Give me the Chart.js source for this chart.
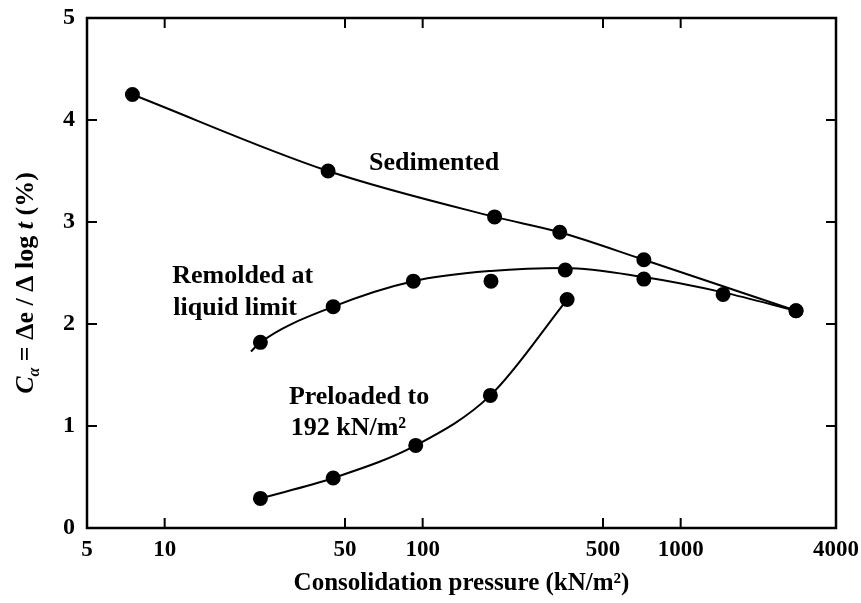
<!DOCTYPE html>
<html>
<head>
<meta charset="utf-8">
<script src="https://cdn.jsdelivr.net/npm/chart.js@4.4.0/dist/chart.umd.min.js"></script>
<style>
  html, body { margin: 0; padding: 0; background: #fff; }
</style>
</head>
<body>
<canvas id="chart" width="861" height="603"></canvas>
<script>
// axis ticks
const xTicks = [5, 10, 50, 100, 500, 1000, 4000];

// Sedimented
const sedX = [7.5, 43, 190, 340, 720, 2800];
const sedY = [4.25, 3.5, 3.05, 2.9, 2.63, 2.13];

// Remolded at liquid limit (measured points)
const remX = [23.5, 45, 92, 184, 357, 720, 1460, 2800];
const remY = [1.82, 2.17, 2.42, 2.42, 2.53, 2.44, 2.29, 2.13];
// faired curve drawn through them
const remCurveX = [21.6, 23.5, 45, 92, 184, 357, 720, 1460, 2800];
const remCurveY = [1.73, 1.82, 2.17, 2.42, 2.52, 2.55, 2.46, 2.31, 2.13];

// Preloaded to 192 kN/m2
const preX = [23.5, 45, 94, 183, 363];
const preY = [0.29, 0.49, 0.81, 1.30, 2.24];

const FONT = '"Liberation Serif", "Times New Roman", serif';
const pts = (xs, ys) => xs.map((x, i) => ({ x: x, y: ys[i] }));

// ====== frame with inward tick marks ======
const framePlugin = {
    id: 'frame',
    afterDraw(chart) {
        const { ctx, chartArea: a, scales } = chart;
        ctx.save();
        ctx.strokeStyle = '#000';
        ctx.lineWidth = 2.5;
        ctx.strokeRect(a.left, a.top, a.right - a.left, a.bottom - a.top);
        ctx.lineWidth = 2;
        ctx.beginPath();
        xTicks.slice(1, -1).forEach(v => {
            const px = scales.x.getPixelForValue(v);
            ctx.moveTo(px, a.bottom); ctx.lineTo(px, a.bottom - 10);
            ctx.moveTo(px, a.top); ctx.lineTo(px, a.top + 10);
        });
        [1, 2, 3, 4].forEach(v => {
            const py = scales.y.getPixelForValue(v);
            ctx.moveTo(a.left, py); ctx.lineTo(a.left + 10, py);
            ctx.moveTo(a.right, py); ctx.lineTo(a.right - 10, py);
        });
        ctx.stroke();
        ctx.restore();
    }
};

// ====== curve labels, y axis title ======
const labels = [
    { text: 'Sedimented', x: 62, y: 3.51 },
    { text: 'Remolded at', x: 10.7, y: 2.40 },
    { text: 'liquid limit', x: 10.8, y: 2.09 },
    { text: 'Preloaded to', x: 30.3, y: 1.22 },
    { text: '192 kN/m\u00b2', x: 30.8, y: 0.91 }
];

const textPlugin = {
    id: 'texts',
    afterDraw(chart) {
        const { ctx, scales, chartArea: a } = chart;
        ctx.save();
        ctx.fillStyle = '#000';
        ctx.font = 'bold 26px ' + FONT;
        ctx.textBaseline = 'alphabetic';
        ctx.textAlign = 'left';
        labels.forEach(l => {
            ctx.fillText(l.text, scales.x.getPixelForValue(l.x), scales.y.getPixelForValue(l.y));
        });

        // rotated y title: C_α = Δe / Δ log t (%)
        const parts = [
            { t: 'C', f: 'italic bold 26px ' + FONT, dy: 0 },
            { t: '\u03b1', f: 'italic bold 16px ' + FONT, dy: 6 },
            { t: ' = \u0394e / \u0394 log ', f: 'bold 26px ' + FONT, dy: 0 },
            { t: 't', f: 'italic bold 26px ' + FONT, dy: 0 },
            { t: ' (%)', f: 'bold 26px ' + FONT, dy: 0 }
        ];
        let total = 0;
        parts.forEach(p => { ctx.font = p.f; p.w = ctx.measureText(p.t).width; total += p.w; });
        ctx.translate(33, (a.top + a.bottom) / 2 + 10);
        ctx.rotate(-Math.PI / 2);
        let cx = -total / 2;
        parts.forEach(p => {
            ctx.font = p.f;
            ctx.fillText(p.t, cx, p.dy);
            cx += p.w;
        });
        ctx.restore();
    }
};

const lineStyle = {
    borderColor: '#000',
    backgroundColor: '#000',
    borderWidth: 2,
    pointRadius: 6.5,
    pointBackgroundColor: '#000',
    pointBorderColor: '#000',
    cubicInterpolationMode: 'monotone'
};

new Chart(document.getElementById('chart').getContext('2d'), {
    type: 'scatter',
    data: {
        datasets: [
            { ...lineStyle, label: 'Sedimented', data: pts(sedX, sedY), showLine: true },
            { ...lineStyle, label: 'Remolded at liquid limit', data: pts(remX, remY), showLine: false },
            { ...lineStyle, label: 'Remolded curve', data: pts(remCurveX, remCurveY), showLine: true, pointRadius: 0 },
            { ...lineStyle, label: 'Preloaded to 192 kN/m2', data: pts(preX, preY), showLine: true }
        ]
    },
    options: {
        responsive: false,
        animation: false,
        layout: { padding: { top: 18, right: 25, left: 0, bottom: 0 } },
        plugins: { legend: { display: false }, tooltip: { enabled: false } },
        scales: {
            x: {
                type: 'logarithmic',
                min: 5,
                max: 4000,
                afterBuildTicks: s => { s.ticks = xTicks.map(v => ({ value: v })); },
                afterFit: s => { s.height = 75; s.paddingLeft = 0; s.paddingRight = 0; },
                ticks: {
                    callback: v => String(v),
                    autoSkip: false,
                    maxRotation: 0,
                    padding: 8,
                    color: '#000',
                    font: { family: FONT, size: 23, weight: 'bold' }
                },
                grid: { display: false, drawTicks: false },
                border: { display: false },
                title: {
                    display: true,
                    text: 'Consolidation pressure (kN/m\u00b2)',
                    color: '#000',
                    font: { family: FONT, size: 25, weight: 'bold' },
                    padding: { top: 0, bottom: 4 }
                }
            },
            y: {
                min: 0,
                max: 5,
                afterFit: s => { s.width = 87; s.paddingTop = 0; s.paddingBottom = 0; },
                ticks: {
                    stepSize: 1,
                    padding: 12,
                    color: '#000',
                    font: { family: FONT, size: 24, weight: 'bold' }
                },
                grid: { display: false, drawTicks: false },
                border: { display: false }
            }
        }
    },
    plugins: [framePlugin, textPlugin]
});
</script>
</body>
</html>
